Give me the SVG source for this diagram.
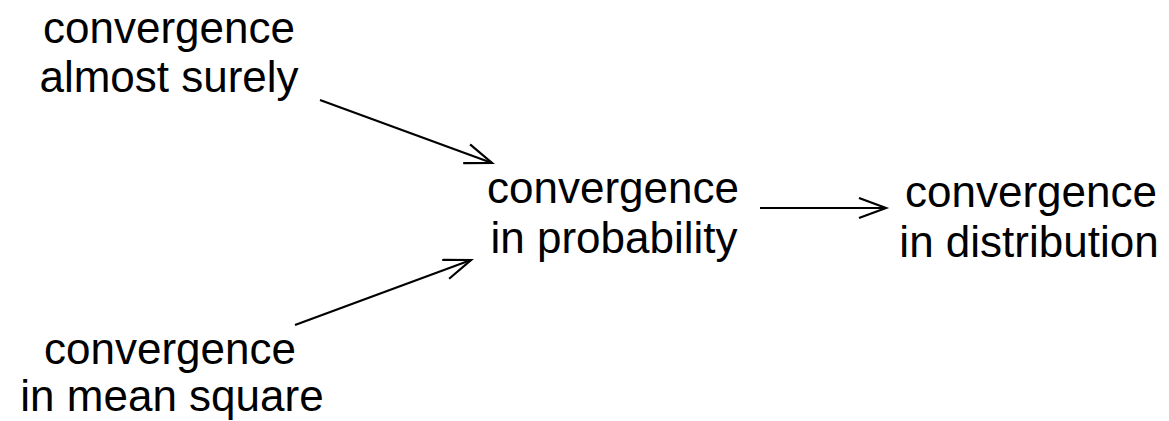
<svg xmlns="http://www.w3.org/2000/svg" width="1169" height="421" viewBox="0 0 1169 421">
<style>
text{font-family:"Liberation Sans",Arial,sans-serif;font-size:44px;fill:#000;text-anchor:middle}
.c{stroke:#000;stroke-width:2.2;fill:none}
</style>
<defs>
<marker id="ah" markerUnits="userSpaceOnUse" markerWidth="32" markerHeight="24" refX="28" refY="11" orient="auto" viewBox="0 0 32 24">
<path d="M1,1 L28,11 L1,21" fill="none" stroke="#000" stroke-width="2.2"/>
</marker>
</defs>
<rect width="1169" height="421" fill="#fff"/>
<g id="as"><text x="169" y="43">convergence</text><text x="169" y="92">almost surely</text></g>
<g id="prob"><text x="613" y="203">convergence</text><text x="614" y="253">in probability</text></g>
<g id="dist"><text x="1031" y="207">convergence</text><text x="1029" y="257">in distribution</text></g>
<g id="ms"><text x="170" y="364">convergence</text><text x="172" y="411">in mean square</text></g>
<g id="connectors">
<line class="c" x1="320" y1="100" x2="492" y2="163" marker-end="url(#ah)"/>
<line class="c" x1="295" y1="325" x2="471" y2="260" marker-end="url(#ah)"/>
<line class="c" x1="760" y1="208" x2="886" y2="208" marker-end="url(#ah)"/>
</g>
</svg>
